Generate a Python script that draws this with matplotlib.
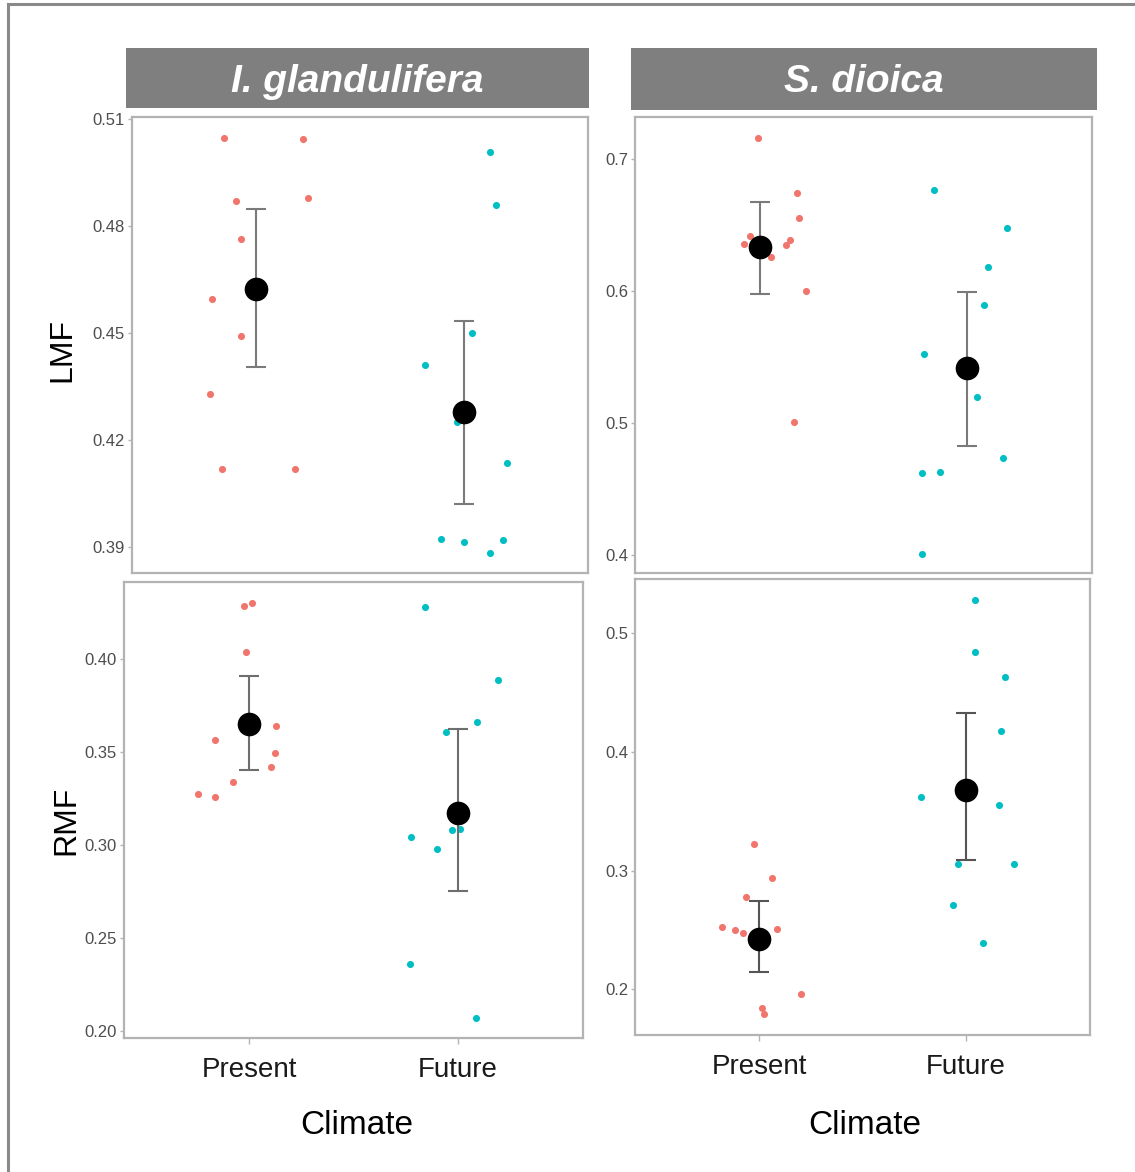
import matplotlib
matplotlib.use("Agg")
import matplotlib.pyplot as plt
from matplotlib.patches import Rectangle
from matplotlib.lines import Line2D

plt.rcParams['font.family'] = ['Liberation Sans', 'DejaVu Sans']

# ---------------- data ----------------
categories = ["Present", "Future"]
species = ["I. glandulifera", "S. dioica"]
y_labels = ["LMF", "RMF"]

# I. glandulifera - LMF
ig_lmf_present = [0.5048, 0.5044, 0.4871, 0.4879, 0.4764, 0.4594, 0.4490, 0.4328, 0.4119, 0.4119]
ig_lmf_present_jit = [-0.155, 0.226, -0.100, 0.248, -0.072, -0.214, -0.074, -0.222, -0.164, 0.184]
ig_lmf_future = [0.5007, 0.4859, 0.4501, 0.4410, 0.4250, 0.4135, 0.3922, 0.3912, 0.3919, 0.3881]
ig_lmf_future_jit = [0.126, 0.158, 0.042, -0.184, -0.030, 0.208, -0.110, 0.000, 0.190, 0.129]
ig_lmf_mean = [0.4622, 0.4277]
ig_lmf_lower = [0.4403, 0.4021]
ig_lmf_upper = [0.4849, 0.4534]
ig_lmf_ticks = [0.39, 0.42, 0.45, 0.48, 0.51]

# S. dioica - LMF
sd_lmf_present = [0.7158, 0.6743, 0.6552, 0.6414, 0.6351, 0.6381, 0.6343, 0.6255, 0.6001, 0.5012]
sd_lmf_present_jit = [-0.006, 0.182, 0.189, -0.046, -0.075, 0.148, 0.128, 0.055, 0.224, 0.166]
sd_lmf_future = [0.6761, 0.6474, 0.6180, 0.5893, 0.5523, 0.5201, 0.4738, 0.4625, 0.4633, 0.4014]
sd_lmf_future_jit = [-0.159, 0.191, 0.100, 0.080, -0.209, 0.047, 0.170, -0.220, -0.133, -0.217]
sd_lmf_mean = [0.6331, 0.5415]
sd_lmf_lower = [0.5978, 0.4829]
sd_lmf_upper = [0.6672, 0.5993]
sd_lmf_ticks = [0.4, 0.5, 0.6, 0.7]

# I. glandulifera - RMF
ig_rmf_present = [0.4299, 0.4281, 0.4036, 0.3636, 0.3565, 0.3491, 0.3416, 0.3335, 0.3271, 0.3258]
ig_rmf_present_jit = [0.013, -0.024, -0.016, 0.130, -0.164, 0.122, 0.104, -0.079, -0.243, -0.165]
ig_rmf_future = [0.4278, 0.3887, 0.3661, 0.3606, 0.3041, 0.2977, 0.3077, 0.3084, 0.2357, 0.2068]
ig_rmf_future_jit = [-0.155, 0.194, 0.090, -0.058, -0.223, -0.100, -0.027, 0.011, -0.230, 0.089]
ig_rmf_mean = [0.3647, 0.3169]
ig_rmf_lower = [0.3403, 0.2749]
ig_rmf_upper = [0.3905, 0.3624]
ig_rmf_ticks = [0.20, 0.25, 0.30, 0.35, 0.40]

# S. dioica - RMF
sd_rmf_present = [0.3226, 0.2940, 0.2781, 0.2529, 0.2501, 0.2473, 0.2509, 0.1963, 0.1846, 0.1790]
sd_rmf_present_jit = [-0.027, 0.064, -0.065, -0.178, -0.118, -0.080, 0.086, 0.203, 0.012, 0.023]
sd_rmf_future = [0.5274, 0.4838, 0.4631, 0.4174, 0.3615, 0.3550, 0.3058, 0.3052, 0.2708, 0.2394]
sd_rmf_future_jit = [0.046, 0.046, 0.190, 0.171, -0.217, 0.159, -0.039, 0.232, -0.063, 0.085]
sd_rmf_mean = [0.2428, 0.3679]
sd_rmf_lower = [0.2145, 0.3091]
sd_rmf_upper = [0.2747, 0.4325]
sd_rmf_ticks = [0.2, 0.3, 0.4, 0.5]

# ---------------- layout ----------------
W, H = 1135, 1172
fig = plt.figure(figsize=(W / 100, H / 100), dpi=100)


def fig_rect(x0, y0, x1, y1):
    return [x0 / W, 1 - y1 / H, (x1 - x0) / W, (y1 - y0) / H]


COL_P = "#F0756D"
COL_F = "#00BFC4"
SPINE = "#b3b3b3"
TICKC = "#4d4d4d"

panels = [
    dict(box=(132, 117, 588, 573), ylim=(0.3826, 0.5106), ticks=ig_lmf_ticks, fmt="{:.2f}",
         pv=ig_lmf_present, pj=ig_lmf_present_jit, fv=ig_lmf_future, fj=ig_lmf_future_jit,
         mean=ig_lmf_mean, lo=ig_lmf_lower, hi=ig_lmf_upper, bottom=False, ecol="#7a7a7a"),
    dict(box=(635, 117, 1092, 573), ylim=(0.3867, 0.7314), ticks=sd_lmf_ticks, fmt="{:.1f}",
         pv=sd_lmf_present, pj=sd_lmf_present_jit, fv=sd_lmf_future, fj=sd_lmf_future_jit,
         mean=sd_lmf_mean, lo=sd_lmf_lower, hi=sd_lmf_upper, bottom=False, ecol="#7a7a7a"),
    dict(box=(124, 582, 583, 1038), ylim=(0.1961, 0.4412), ticks=ig_rmf_ticks, fmt="{:.2f}",
         pv=ig_rmf_present, pj=ig_rmf_present_jit, fv=ig_rmf_future, fj=ig_rmf_future_jit,
         mean=ig_rmf_mean, lo=ig_rmf_lower, hi=ig_rmf_upper, bottom=True, ecol="#6e6e6e"),
    dict(box=(635, 579, 1090, 1035), ylim=(0.1617, 0.5451), ticks=sd_rmf_ticks, fmt="{:.1f}",
         pv=sd_rmf_present, pj=sd_rmf_present_jit, fv=sd_rmf_future, fj=sd_rmf_future_jit,
         mean=sd_rmf_mean, lo=sd_rmf_lower, hi=sd_rmf_upper, bottom=True, ecol="#555555"),
]

xpos = [1, 2]
for p in panels:
    ax = fig.add_axes(fig_rect(*p["box"]))
    ax.set_xlim(0.4, 2.6)
    ax.set_ylim(*p["ylim"])
    for s in ax.spines.values():
        s.set_color(SPINE)
        s.set_linewidth(1.6)
    ax.scatter([xpos[0] + j for j in p["pj"]], p["pv"], s=26, color=COL_P, zorder=2, linewidths=0)
    ax.scatter([xpos[1] + j for j in p["fj"]], p["fv"], s=26, color=COL_F, zorder=2, linewidths=0)
    yerr = [[m - l for m, l in zip(p["mean"], p["lo"])], [h - m for m, h in zip(p["mean"], p["hi"])]]
    ax.errorbar(xpos, p["mean"], yerr=yerr, fmt="none", ecolor=p["ecol"], elinewidth=1.5,
                capsize=7.5, capthick=1.5, zorder=3)
    ax.scatter(xpos, p["mean"], s=290, color="black", zorder=4, linewidths=0)
    ax.set_yticks(p["ticks"])
    ax.set_yticklabels([p["fmt"].format(t) for t in p["ticks"]])
    ax.tick_params(axis="y", colors=SPINE, labelcolor=TICKC, labelsize=12, length=3, width=1, pad=2)
    ax.set_xticks(xpos)
    if p["bottom"]:
        ax.set_xticklabels(categories)
        ax.tick_params(axis="x", colors=SPINE, labelcolor="#1a1a1a", labelsize=20, length=4, width=1, pad=10)
    else:
        ax.set_xticklabels([])
        ax.tick_params(axis="x", length=0)
    ax.set_facecolor("white")

# strips
strips = [(126, 48, 589, 108), (631, 48, 1097, 110)]
for (x0, y0, x1, y1), name in zip(strips, species):
    r = fig_rect(x0, y0, x1, y1)
    fig.patches.append(Rectangle((r[0], r[1]), r[2], r[3], transform=fig.transFigure,
                                 facecolor="#7f7f7f", edgecolor="none", zorder=1))
    fig.text(r[0] + r[2] / 2, 1 - 82 / H, name, ha="center", va="center",
             color="white", fontsize=28, fontweight="bold", fontstyle="italic")

# y-axis titles
fig.text(62 / W, 1 - 350 / H, y_labels[0], rotation=90, ha="center", va="center", fontsize=23, color="black")
fig.text(66 / W, 1 - 820 / H, y_labels[1], rotation=90, ha="center", va="center", fontsize=23, color="black")

# x-axis titles
fig.text(357 / W, 1 - 1125 / H, "Climate", ha="center", va="center", fontsize=24, color="black")
fig.text(865 / W, 1 - 1125 / H, "Climate", ha="center", va="center", fontsize=24, color="black")

# outer frame (partial, as cropped)
fig.lines.append(Line2D([8 / W, 1.0], [1 - 4 / H, 1 - 4 / H], transform=fig.transFigure,
                        color="#8a8a8a", linewidth=2.2))
fig.lines.append(Line2D([8 / W, 8 / W], [0.0, 1 - 4 / H], transform=fig.transFigure,
                        color="#8a8a8a", linewidth=2.2))

fig.savefig("out.png", dpi=100, facecolor="white")
